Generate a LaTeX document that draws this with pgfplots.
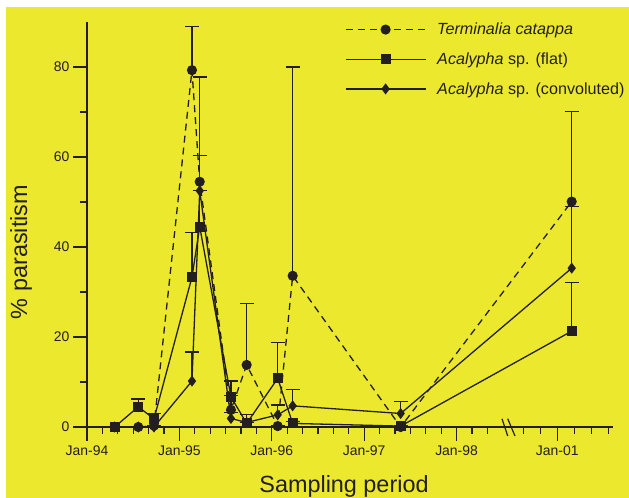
\documentclass[border=0pt]{standalone}
\usepackage{fontspec}
\setmainfont{Liberation Sans}
\usepackage{pgfplots}
\usepackage{pgfplotstable}
\pgfplotsset{compat=1.18}
\definecolor{bgyellow}{RGB}{236,232,46}
\definecolor{ink}{RGB}{35,31,32}

\pgfplotstableread{
x y e
0.300 0.0 0
0.555 0.0 0
0.725 0.3 0
1.136 79.3 9.7
1.220 54.5 5.9
1.558 3.8 3.2
1.728 13.8 13.7
2.064 0.2 0
2.226 33.6 46.4
3.395 0.0 0
5.246 50.1 20.0
}\terminalia

\pgfplotstableread{
x y e
0.300 0.0 0
0.555 4.5 1.7
0.725 1.8 1.2
1.136 33.3 9.9
1.220 44.5 33.3
1.558 6.7 3.5
1.728 0.8 1.9
2.064 10.8 8.0
2.226 0.8 0.4
3.395 0.2 0
5.246 21.3 10.8
}\flat

\pgfplotstableread{
x y e
0.300 0.0 0
0.555 0.0 0
0.725 0.0 0
1.136 10.2 6.5
1.220 52.5 0
1.558 1.9 1.4
1.728 1.0 0
2.064 2.7 2.2
2.226 4.7 3.7
3.395 3.0 2.6
5.246 35.3 13.7
}\convoluted

\begin{document}
\begin{tikzpicture}
\useasboundingbox (0bp,0bp) rectangle (629bp,498bp);
\fill[bgyellow] (6bp,0bp) rectangle (629bp,491bp);
\begin{axis}[
  at={(87bp,71bp)}, anchor=south west,
  scale only axis, width=526bp, height=405bp,
  xmin=0, xmax=5.693, ymin=0, ymax=90,
  clip=false,
  axis x line*=bottom, axis y line*=left,
  axis line style={ink, line width=1.2bp, -},
  tick align=outside,
  major tick length=14bp, minor tick length=7bp,
  every tick/.style={ink, line width=1.2bp},
  xtick={0,1,2,3,4,5.09},
  xticklabels={Jan-94,Jan-95,Jan-96,Jan-97,Jan-98,Jan-01},
  minor xtick={0.1667,0.3333,0.5,0.6667,0.8333,
    1.1667,1.3333,1.5,1.6667,1.8333,
    2.1667,2.3333,2.5,2.6667,2.8333,
    3.1667,3.3333,3.5,3.6667,3.8333,
    4.1667,4.3333,4.72,4.905,5.275,5.46,5.645},
  ytick={0,20,40,60,80},
  minor ytick={10,30,50,70},
  /pgf/number format/assume math mode=true,
  tick label style={font=\fontsize{14}{16}\selectfont, text=ink},
  xticklabel style={yshift=-1bp},
  every axis x label/.style={at={(axis description cs:0.4886,-0.162)}, anchor=base},
  every axis y label/.style={at={(axis description cs:-0.114,0.432)}, rotate=90, anchor=base},
  label style={font=\fontsize{23.5}{28}\selectfont, text=ink},
  xlabel={Sampling period},
  ylabel={\% parasitism},
  legend style={draw=none, fill=none, at={(axis description cs:0.49,1.003)}, anchor=north west,
    font=\fontsize{16.2}{19}\selectfont, text=ink, row sep=12.5bp, inner sep=0pt,
    /tikz/every odd column/.append style={column sep=9bp}},
  legend cell align=left,
  legend image code/.code={\draw[mark repeat=2,mark phase=2,#1] plot coordinates {(0bp,0bp) (40bp,0bp) (80bp,0bp)};},
  every axis plot/.append style={ink, line width=1.3bp},
  error bars/y dir=plus, error bars/y explicit,
  error bars/error mark options={rotate=90, mark size=7bp, line width=1.3bp, ink, solid},
  error bars/error bar style={line width=1.3bp, ink, solid},
]
\addplot[ink, dash pattern=on 7bp off 5bp, mark=*, mark size=4.4bp, mark options={solid, fill=ink}]
  table[x=x, y=y, y error=e] {\terminalia};
\addlegendentry{\textit{Terminalia catappa}}
\addplot[ink, solid, mark=square*, mark size=4.3bp, mark options={solid, fill=ink}]
  table[x=x, y=y, y error=e] {\flat};
\addlegendentry{\textit{Acalypha} sp. (flat)}
\addplot[ink, solid, mark=diamond*, mark size=4.5bp, mark options={solid, fill=ink}]
  table[x=x, y=y, y error=e] {\convoluted};
\addlegendentry{\textit{Acalypha} sp. (convoluted)}
\end{axis}
\draw[ink, line width=1.2bp] (502bp,79.3bp) -- (507.7bp,62bp);
\draw[ink, line width=1.2bp] (507.7bp,79.3bp) -- (515bp,62bp);
\end{tikzpicture}
\end{document}
